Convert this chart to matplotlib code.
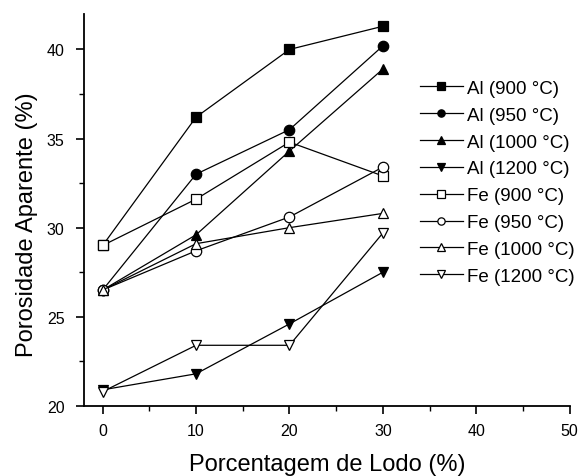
import matplotlib.pyplot as plt
from matplotlib.ticker import MultipleLocator

plt.rcParams['font.family'] = ['Liberation Sans', 'DejaVu Sans']

lodo = [0, 10, 20, 30]

al_900 = [29.0, 36.2, 40.0, 41.3]
al_950 = [26.5, 33.0, 35.5, 40.2]
al_1000 = [26.5, 29.6, 34.3, 38.9]
al_1200 = [20.9, 21.8, 24.6, 27.5]
fe_900 = [29.0, 31.6, 34.8, 32.9]
fe_950 = [26.5, 28.7, 30.6, 33.4]
fe_1000 = [26.5, 29.1, 30.0, 30.8]
fe_1200 = [20.8, 23.4, 23.4, 29.7]

series = [
    ('Al (900 °C)', al_900, 's', 'black'),
    ('Al (950 °C)', al_950, 'o', 'black'),
    ('Al (1000 °C)', al_1000, '^', 'black'),
    ('Al (1200 °C)', al_1200, 'v', 'black'),
    ('Fe (900 °C)', fe_900, 's', 'white'),
    ('Fe (950 °C)', fe_950, 'o', 'white'),
    ('Fe (1000 °C)', fe_1000, '^', 'white'),
    ('Fe (1200 °C)', fe_1200, 'v', 'white'),
]

fig = plt.figure(figsize=(5.79, 4.77), dpi=100)
ax = fig.add_axes([0.145, 0.147, 0.839, 0.822])

for label, vals, mk, face in series:
    ax.plot(lodo, vals, color='black', lw=0.9, marker=mk, markersize=7.5,
            markerfacecolor=face, markeredgecolor='black', markeredgewidth=0.9,
            label=label)

ax.set_xlim(-2, 50)
ax.set_ylim(20, 42)
ax.xaxis.set_major_locator(MultipleLocator(10))
ax.xaxis.set_minor_locator(MultipleLocator(5))
ax.yaxis.set_major_locator(MultipleLocator(5))
ax.yaxis.set_minor_locator(MultipleLocator(2.5))
ax.tick_params(which='major', direction='out', length=6, width=1.2, pad=6,
               labelsize=11.5, colors='black')
ax.tick_params(axis='y', which='major', pad=8)
ax.tick_params(which='minor', direction='out', length=3.5, width=1.0)
for s in ('top', 'right'):
    ax.spines[s].set_visible(False)
for s in ('left', 'bottom'):
    ax.spines[s].set_linewidth(1.3)

ax.set_xlabel('Porcentagem de Lodo (%)', fontsize=17, labelpad=11)
ax.set_ylabel('Porosidade Aparente (%)', fontsize=17)
ax.yaxis.set_label_coords(-0.095, 0.464)

ax.legend(loc='upper left', bbox_to_anchor=(0.691, 0.832), frameon=False,
          fontsize=13.5, handlelength=2.3, handletextpad=0.2, labelspacing=0.52,
          markerscale=0.7, borderaxespad=0, borderpad=0)

fig.savefig('out.png', dpi=100)
